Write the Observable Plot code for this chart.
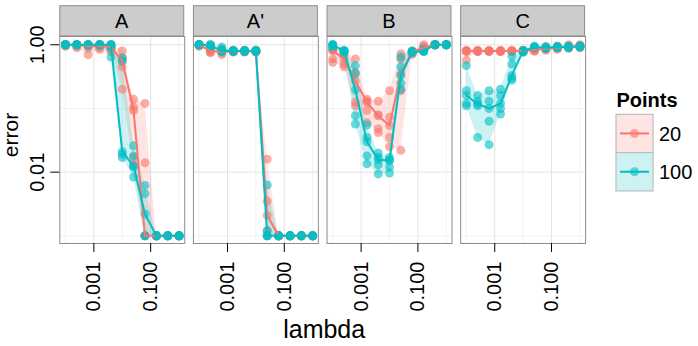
<!DOCTYPE html>
<html>
<head>
<meta charset="utf-8">
<script src="https://cdn.jsdelivr.net/npm/d3@7"></script>
<script src="https://cdn.jsdelivr.net/npm/@observablehq/plot@0.6"></script>
<style>
  html, body { margin: 0; padding: 0; background: #ffffff; }
  #chart svg { display: block; }
</style>
</head>
<body>
<div id="chart"></div>
<script>
// ---------- data ----------
const panels = ["A", "A'", "B", "C"];
const groups = ["20", "100"];
const lambdas = [0.0001, 0.00025, 0.00063, 0.0016, 0.004, 0.01, 0.025, 0.063, 0.16, 0.4, 1];
const xMajorTicks = [0.001, 0.1];
const xMinorTicks = [0.0001, 0.01, 1];
const yMajorTicks = [1, 0.01];
const yMinorTicks = [0.1, 0.001];

// replicate errors per lambda (5 runs each)
const errA_20 = [
  [1, 1, 1, 1, 0.95], [1, 1, 1, 0.95, 0.9], [1, 1, 0.95, 0.9, 0.7], [1, 1, 0.95, 0.9, 0.85],
  [1, 0.95, 0.92, 0.85, 0.78], [0.8, 0.62, 0.56, 0.45, 0.2], [0.14, 0.105, 0.093, 0.017, 0.013],
  [0.12, 0.014, 0.001, 0.001, 0.001], [0.001, 0.001, 0.001, 0.001, 0.001],
  [0.001, 0.001, 0.001, 0.001, 0.001], [0.001, 0.001, 0.001, 0.001, 0.001]
];
const errA_100 = [
  [1, 1, 1, 1, 1], [1, 1, 1, 1, 1], [1, 1, 1, 1, 1], [1, 1, 1, 1, 1],
  [1, 1, 1, 0.9, 0.64], [0.62, 0.55, 0.021, 0.019, 0.017], [0.026, 0.018, 0.0125, 0.012, 0.0084],
  [0.0062, 0.0046, 0.0022, 0.001, 0.001], [0.001, 0.001, 0.001, 0.001, 0.001],
  [0.001, 0.001, 0.001, 0.001, 0.001], [0.001, 0.001, 0.001, 0.001, 0.001]
];
const errAp_20 = [
  [1, 1, 1, 0.98, 0.95], [0.9, 0.85, 0.8, 0.77, 0.75], [0.85, 0.8, 0.78, 0.75, 0.7],
  [0.82, 0.8, 0.79, 0.78, 0.77], [0.82, 0.8, 0.79, 0.78, 0.77], [0.82, 0.8, 0.79, 0.78, 0.77],
  [0.016, 0.0035, 0.0021, 0.0012, 0.001], [0.001, 0.001, 0.001, 0.001, 0.001],
  [0.001, 0.001, 0.001, 0.001, 0.001], [0.001, 0.001, 0.001, 0.001, 0.001],
  [0.001, 0.001, 0.001, 0.001, 0.001]
];
const errAp_100 = [
  [1, 1, 1, 1, 1], [1, 1, 0.98, 0.95, 0.9], [0.92, 0.85, 0.8, 0.8, 0.78],
  [0.82, 0.8, 0.8, 0.79, 0.78], [0.82, 0.8, 0.8, 0.79, 0.78], [0.82, 0.8, 0.8, 0.79, 0.78],
  [0.0063, 0.0012, 0.001, 0.001, 0.001], [0.001, 0.001, 0.001, 0.001, 0.001],
  [0.001, 0.001, 0.001, 0.001, 0.001], [0.001, 0.001, 0.001, 0.001, 0.001],
  [0.001, 0.001, 0.001, 0.001, 0.001]
];
const errB_20 = [
  [0.85, 0.82, 0.81, 0.6, 0.53], [0.8, 0.7, 0.6, 0.5, 0.45], [0.6, 0.37, 0.27, 0.125, 0.11],
  [0.14, 0.13, 0.125, 0.093, 0.06], [0.13, 0.08, 0.077, 0.048, 0.042], [0.19, 0.073, 0.054, 0.035, 0.025],
  [0.72, 0.6, 0.35, 0.19, 0.022], [0.8, 0.78, 0.77, 0.75, 0.7], [1, 0.95, 0.9, 0.85, 0.8],
  [1, 1, 1, 1, 1], [1, 1, 1, 1, 1]
];
const errB_100 = [
  [1, 1, 1, 0.95, 0.9], [0.82, 0.8, 0.8, 0.78, 0.75], [0.47, 0.35, 0.196, 0.077, 0.057],
  [0.055, 0.035, 0.03, 0.018, 0.0135], [0.02, 0.017, 0.0156, 0.013, 0.0094], [0.017, 0.0155, 0.0152, 0.012, 0.0097],
  [0.64, 0.45, 0.33, 0.25, 0.2], [0.8, 0.78, 0.77, 0.77, 0.75], [0.85, 0.82, 0.8, 0.8, 0.78],
  [1, 1, 1, 1, 1], [1, 1, 1, 1, 1]
];
const errC_20 = [
  [0.82, 0.8, 0.8, 0.78, 0.57], [0.82, 0.8, 0.8, 0.79, 0.78], [0.82, 0.8, 0.8, 0.79, 0.78],
  [0.82, 0.8, 0.8, 0.79, 0.78], [0.82, 0.8, 0.8, 0.79, 0.78], [0.82, 0.8, 0.8, 0.79, 0.78],
  [0.9, 0.85, 0.83, 0.8, 0.8], [0.95, 0.9, 0.87, 0.85, 0.82], [0.95, 0.92, 0.9, 0.88, 0.85],
  [1, 0.95, 0.93, 0.9, 0.88], [1, 0.97, 0.95, 0.93, 0.9]
];
const errC_100 = [
  [0.47, 0.19, 0.16, 0.12, 0.11], [0.16, 0.13, 0.118, 0.11, 0.035], [0.19, 0.13, 0.1, 0.063, 0.027],
  [0.2, 0.16, 0.12, 0.1, 0.082], [0.66, 0.5, 0.33, 0.3, 0.28], [0.82, 0.8, 0.8, 0.78, 0.76],
  [0.95, 0.92, 0.92, 0.9, 0.9], [0.92, 0.9, 0.9, 0.88, 0.88], [0.95, 0.93, 0.92, 0.9, 0.9],
  [0.95, 0.93, 0.92, 0.92, 0.9], [0.96, 0.95, 0.94, 0.93, 0.92]
];

const series = [
  {panel: "A", points: "20", reps: errA_20},
  {panel: "A'", points: "20", reps: errAp_20},
  {panel: "B", points: "20", reps: errB_20},
  {panel: "C", points: "20", reps: errC_20},
  {panel: "A", points: "100", reps: errA_100},
  {panel: "A'", points: "100", reps: errAp_100},
  {panel: "B", points: "100", reps: errB_100},
  {panel: "C", points: "100", reps: errC_100}
];

const rows = series.flatMap(s => s.reps.flatMap((reps, i) =>
  reps.map(e => ({panel: s.panel, points: s.points, lambda: lambdas[i], error: e}))));
const summary = series.flatMap(s => s.reps.map((reps, i) => ({
  panel: s.panel, points: s.points, lambda: lambdas[i],
  med: d3.median(reps), lo: d3.min(reps), hi: d3.max(reps)
})));

// ---------- chart ----------
const FONT = "'Liberation Sans', Arial, Helvetica, sans-serif";
const colors = ["#F8766D", "#00BFC4"];

const plot = Plot.plot({
  width: 698,
  height: 346,
  marginLeft: 59.3,
  marginRight: 112.9,
  marginTop: 36,
  marginBottom: 103,
  style: {fontFamily: FONT, background: "#ffffff", color: "#000000"},
  fx: {domain: panels, paddingInner: 0.065, paddingOuter: 0, round: false, axis: null, label: null},
  x: {type: "log", domain: [10 ** -4.2, 10 ** 0.2], label: null},
  y: {type: "log", domain: [10 ** -3.12, 10 ** 0.13], label: null},
  color: {domain: groups, range: colors},
  marks: [
    Plot.gridX(xMinorTicks, {stroke: "#f2f2f2", strokeOpacity: 1, strokeWidth: 1}),
    Plot.gridY(yMinorTicks, {stroke: "#f2f2f2", strokeOpacity: 1, strokeWidth: 1}),
    Plot.gridX(xMajorTicks, {stroke: "#e4e4e4", strokeOpacity: 1, strokeWidth: 1}),
    Plot.gridY(yMajorTicks, {stroke: "#e4e4e4", strokeOpacity: 1, strokeWidth: 1}),
    Plot.areaY(summary, {fx: "panel", x: "lambda", y1: "lo", y2: "hi", z: "points", fill: "points", fillOpacity: 0.2}),
    Plot.dot(rows, {fx: "panel", x: "lambda", y: "error", fill: "points", fillOpacity: 0.6, r: 4.5}),
    Plot.line(summary, {fx: "panel", x: "lambda", y: "med", z: "points", stroke: "points", strokeWidth: 2}),
    Plot.frame({stroke: "#8c8c8c", strokeWidth: 1}),
    Plot.axisX({ticks: xMajorTicks, tickFormat: d3.format(".3f"), tickRotate: -90, tickSize: 9,
                tickPadding: 9, fontSize: 20, label: null, stroke: "#000"}),
    Plot.axisY({ticks: yMajorTicks, tickFormat: d3.format(".2f"), tickRotate: -90, tickSize: 9,
                tickPadding: 6.5, fontSize: 20, label: null, stroke: "#000"})
  ]
});

document.getElementById("chart").append(plot);

// ---------- facet strips, axis titles and legend ----------
const svg = d3.select(plot);
const fxScale = plot.scale("fx");
const bw = fxScale.bandwidth;
const stripTop = 5.7, stripBottom = 36;
const strips = svg.append("g").attr("font-family", FONT);
for (const p of panels) {
  const x0 = fxScale.apply(p);
  strips.append("rect")
    .attr("x", x0 + 0.5).attr("y", stripTop)
    .attr("width", bw - 1).attr("height", stripBottom - stripTop)
    .attr("fill", "#cccccc").attr("stroke", "#8c8c8c");
  strips.append("text")
    .attr("x", x0 + bw / 2).attr("y", (stripTop + stripBottom) / 2)
    .attr("dy", "0.36em").attr("text-anchor", "middle")
    .attr("font-size", 20).attr("fill", "#000").text(p);
}

const [r0, r1] = fxScale.range;
svg.append("text")
  .attr("x", (r0 + r1) / 2 + 2).attr("y", 338)
  .attr("text-anchor", "middle").attr("font-family", FONT)
  .attr("font-size", 25).attr("fill", "#000").text("lambda");
svg.append("text")
  .attr("transform", "translate(18.3,135) rotate(-90)")
  .attr("text-anchor", "middle").attr("font-family", FONT)
  .attr("font-size", 21).attr("fill", "#000").text("error");

const color = plot.scale("color");
const lg = svg.append("g").attr("font-family", FONT).attr("text-anchor", "start");
lg.append("text").attr("x", 616.5).attr("y", 106.5).attr("text-anchor", "start")
  .attr("font-weight", "bold").attr("font-size", 20).attr("fill", "#000").text("Points");
const keyX = 616, keyW = 37, keyTop = 114.3, keyH = 38.3;
groups.forEach((g, i) => {
  const c = color.apply(g);
  const y0 = keyTop + i * keyH;
  const cy = y0 + keyH / 2;
  lg.append("rect").attr("x", keyX).attr("y", y0).attr("width", keyW).attr("height", keyH)
    .attr("fill", "#ffffff").attr("stroke", "none");
  lg.append("rect").attr("x", keyX).attr("y", y0).attr("width", keyW).attr("height", keyH)
    .attr("fill", c).attr("fill-opacity", 0.2).attr("stroke", "#bdbdbd").attr("stroke-width", 1.2);
  lg.append("line").attr("x1", keyX + 4).attr("x2", keyX + keyW - 4).attr("y1", cy).attr("y2", cy)
    .attr("stroke", c).attr("stroke-width", 2);
  lg.append("circle").attr("cx", keyX + keyW / 2).attr("cy", cy).attr("r", 4.5)
    .attr("fill", c).attr("fill-opacity", 0.6);
  lg.append("text").attr("x", 659).attr("y", cy).attr("dy", "0.36em").attr("text-anchor", "start")
    .attr("font-size", 20).attr("fill", "#000").text(g);
});
</script>
</body>
</html>
